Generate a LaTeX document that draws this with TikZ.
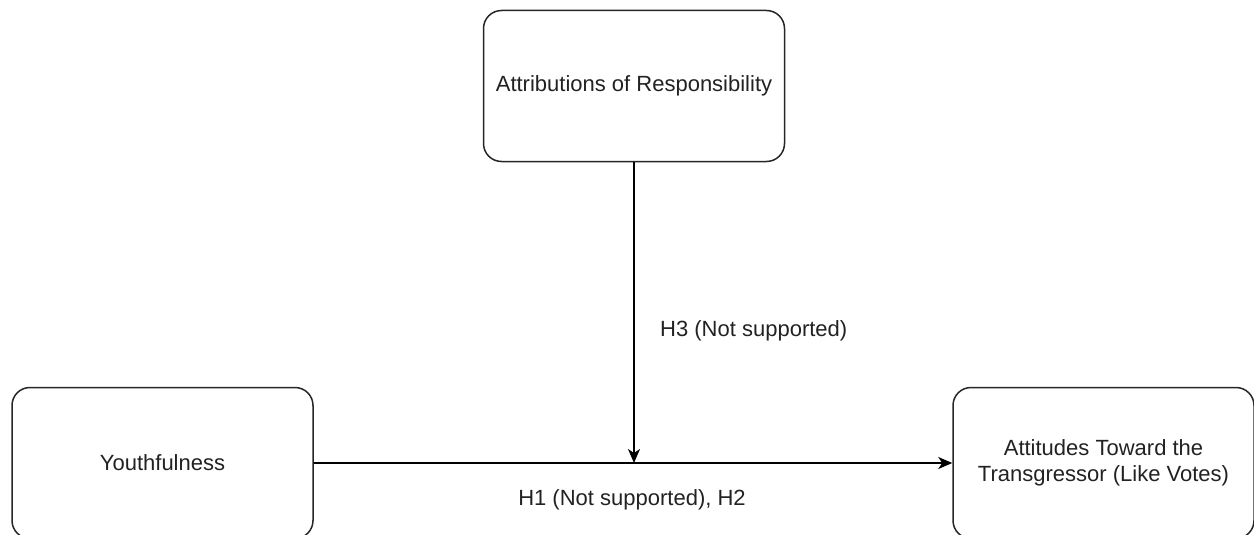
\documentclass[tikz,border=0pt]{standalone}
\usepackage{fontspec}
\setmainfont{Liberation Sans}
\usetikzlibrary{arrows.meta}
\definecolor{txt}{HTML}{222222}
\begin{document}
\begin{tikzpicture}[x=1pt,y=-1pt,
  box/.style={draw=black!85, line width=1.5pt, rounded corners=18pt, fill=white,
    minimum width=301pt, minimum height=151pt, align=center, inner sep=0pt,
    font=\fontsize{22}{25.5}\selectfont, text=txt},
  lbl/.style={font=\fontsize{22}{25.5}\selectfont, text=txt, inner sep=0pt},
  conn/.style={draw=black, line width=1.5pt, -{Stealth[length=14pt,width=12pt,inset=4pt]}}]
\useasboundingbox (0,0) rectangle (1254,535);
\node[box] (attr) at (634,86) {Attributions of Responsibility};
\node[box] (youth) at (162.5,463) {Youthfulness};
\node[box] (att) at (1103.5,463) {Attitudes Toward the\\Transgressor (Like Votes)};
\draw[conn] (youth.east) -- (att.west) coordinate[pos=0.5] (mid);
\draw[conn] (attr.south) -- (attr.south |- youth.east);
\node[lbl, anchor=west] (h3) at (660,331) {H3 (Not supported)};
\node[lbl] (h1) at (632,500) {H1 (Not supported), H2};
\end{tikzpicture}
\end{document}
